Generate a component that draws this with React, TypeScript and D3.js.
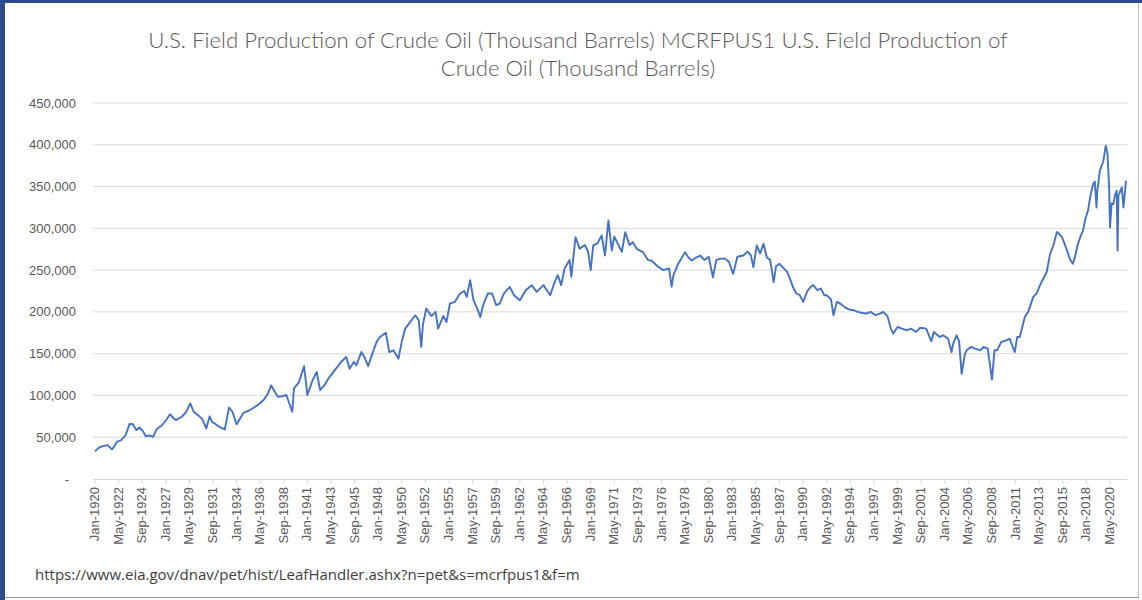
import * as d3 from "d3";

const TITLE_LINES = [
  "U.S. Field Production of Crude Oil (Thousand Barrels) MCRFPUS1 U.S. Field Production of",
  "Crude Oil (Thousand Barrels)",
];
const SOURCE_URL =
  "https://www.eia.gov/dnav/pet/hist/LeafHandler.ashx?n=pet&s=mcrfpus1&f=m";

const Y_TICKS = [0, 50000, 100000, 150000, 200000, 250000, 300000, 350000, 400000, 450000];

// Category labels Excel shows (every 28th month)
const X_TICK_LABELS = [
  "Jan-1920", "May-1922", "Sep-1924", "Jan-1927", "May-1929", "Sep-1931",
  "Jan-1934", "May-1936", "Sep-1938", "Jan-1941", "May-1943", "Sep-1945",
  "Jan-1948", "May-1950", "Sep-1952", "Jan-1955", "May-1957", "Sep-1959",
  "Jan-1962", "May-1964", "Sep-1966", "Jan-1969", "May-1971", "Sep-1973",
  "Jan-1976", "May-1978", "Sep-1980", "Jan-1983", "May-1985", "Sep-1987",
  "Jan-1990", "May-1992", "Sep-1994", "Jan-1997", "May-1999", "Sep-2001",
  "Jan-2004", "May-2006", "Sep-2008", "Jan-2011", "May-2013", "Sep-2015",
  "Jan-2018", "May-2020",
];

// Monthly production, thousand barrels
const EARLY_YEARS: [string, number][] = [
  ["1920-01", 33000], ["1920-05", 37000], ["1920-09", 39000], ["1921-01", 40000],
  ["1921-04", 40500], ["1921-07", 37500], ["1921-09", 35500], ["1921-12", 39000],
  ["1922-03", 44500], ["1922-08", 46500], ["1923-01", 52000], ["1923-04", 60000],
  ["1923-06", 66000], ["1923-10", 65500], ["1924-02", 58500], ["1924-06", 61500],
  ["1924-10", 57000], ["1925-01", 51500], ["1925-06", 52000], ["1925-10", 50500],
  ["1926-02", 59500], ["1926-08", 64000], ["1927-01", 70000], ["1927-06", 77500],
  ["1927-10", 73000], ["1928-01", 70500], ["1928-08", 74500], ["1929-01", 80000],
  ["1929-06", 90500], ["1929-10", 80500], ["1930-03", 76500], ["1930-08", 72000],
  ["1931-01", 60500], ["1931-05", 75000], ["1931-08", 68000], ["1931-11", 66500],
  ["1932-05", 62000], ["1932-11", 59500], ["1933-04", 85500], ["1933-08", 80500],
  ["1934-01", 65500], ["1934-09", 79000], ["1935-04", 82000], ["1935-11", 86500],
  ["1936-04", 90000], ["1936-09", 94500], ["1937-02", 102000], ["1937-06", 112000],
  ["1937-10", 105000], ["1938-02", 98500], ["1938-07", 99000], ["1938-12", 100500],
  ["1939-07", 80500], ["1939-09", 108500], ["1940-03", 116000], ["1940-09", 135000],
  ["1941-01", 100500], ["1941-07", 118000], ["1941-12", 128000], ["1942-04", 106500],
  ["1942-09", 112000], ["1943-02", 120500], ["1943-07", 127000], ["1943-12", 133500],
  ["1944-05", 140000], ["1944-11", 146000], ["1945-03", 132000], ["1945-08", 140000],
  ["1945-11", 136000],
];

const MIDDLE_YEARS: [string, number][] = [
  ["1946-05", 152000], ["1946-09", 145000], ["1947-01", 135000], ["1947-06", 150000],
  ["1947-11", 164000], ["1948-03", 170000], ["1948-10", 175000], ["1949-02", 152000],
  ["1949-07", 154000], ["1950-01", 144000], ["1950-05", 165000], ["1950-09", 180000],
  ["1951-03", 188000], ["1951-09", 196000], ["1952-01", 190000], ["1952-04", 158000],
  ["1952-06", 185000], ["1952-10", 204000], ["1953-04", 195000], ["1953-09", 200000],
  ["1953-12", 180000], ["1954-06", 195000], ["1954-10", 188000], ["1955-02", 210000],
  ["1955-08", 212000], ["1956-02", 222000], ["1956-07", 225000], ["1956-10", 218000],
  ["1957-02", 238000], ["1957-06", 214000], ["1957-10", 205000], ["1958-02", 194000],
  ["1958-06", 210000], ["1958-11", 222000], ["1959-04", 222000], ["1959-09", 208000],
  ["1960-01", 210000], ["1960-06", 222000], ["1961-01", 230000], ["1961-06", 220000],
  ["1962-01", 214000], ["1962-08", 226000], ["1963-03", 232000], ["1963-09", 224000],
  ["1964-05", 232000], ["1964-09", 226000], ["1965-01", 220000], ["1965-06", 235000],
  ["1965-10", 244000], ["1966-02", 232000], ["1966-06", 252000], ["1966-12", 262000],
  ["1967-02", 242000], ["1967-07", 289500], ["1967-12", 275500], ["1968-06", 280000],
  ["1968-10", 272000], ["1969-01", 250000], ["1969-04", 279500], ["1969-09", 282000],
  ["1970-02", 291500], ["1970-06", 267500], ["1970-10", 309500], ["1971-02", 273500],
  ["1971-05", 290000], ["1971-09", 282000], ["1972-02", 272000], ["1972-06", 295500],
  ["1972-11", 280000], ["1973-03", 283500], ["1973-08", 275000], ["1974-03", 271500],
  ["1974-09", 262000], ["1975-01", 261500], ["1975-08", 255000], ["1976-03", 250000],
  ["1976-10", 252000], ["1977-01", 230000], ["1977-03", 243500], ["1977-09", 258000],
  ["1978-05", 271500], ["1978-09", 265000], ["1979-01", 261500], ["1979-06", 265000],
  ["1979-11", 267500], ["1980-04", 262000], ["1980-09", 266000], ["1981-02", 241500],
  ["1981-06", 262000], ["1981-10", 263500], ["1982-04", 264000], ["1982-09", 260000],
  ["1983-02", 245500], ["1983-07", 266000], ["1984-02", 267500], ["1984-07", 272000],
  ["1984-11", 268000], ["1985-02", 253500], ["1985-06", 279500], ["1985-10", 270000],
];

const LATE_YEARS: [string, number][] = [
  ["1986-02", 281500], ["1986-06", 265000], ["1986-10", 262000], ["1987-02", 235500],
  ["1987-05", 255000], ["1987-09", 257500], ["1988-02", 252000], ["1988-06", 248000],
  ["1988-10", 238000], ["1989-01", 229500], ["1989-05", 222000], ["1989-09", 220000],
  ["1990-01", 212000], ["1990-06", 225000], ["1990-10", 230000], ["1991-01", 232000],
  ["1991-06", 226000], ["1991-10", 228000], ["1992-02", 220000], ["1992-05", 220000],
  ["1992-10", 215000], ["1993-01", 196000], ["1993-05", 212000], ["1993-09", 210000],
  ["1994-02", 206000], ["1994-07", 203000], ["1995-01", 202000], ["1995-06", 200000],
  ["1995-10", 199000], ["1996-04", 198000], ["1996-09", 200000], ["1997-03", 196000],
  ["1997-08", 198000], ["1997-12", 200000], ["1998-05", 195000], ["1998-09", 180000],
  ["1998-12", 174000], ["1999-05", 182000], ["1999-10", 180000], ["2000-04", 178000],
  ["2000-09", 180000], ["2001-03", 176000], ["2001-08", 181000], ["2002-03", 180000],
  ["2002-09", 165000], ["2002-12", 176000], ["2003-07", 170000], ["2003-11", 172000],
  ["2004-05", 168000], ["2004-09", 152000], ["2004-11", 162000], ["2005-03", 172000],
  ["2005-06", 165000], ["2005-09", 126000], ["2006-01", 150000], ["2006-03", 154000],
  ["2006-08", 158000], ["2007-01", 156000], ["2007-07", 154000], ["2007-11", 158000],
  ["2008-04", 156000], ["2008-09", 119000], ["2008-12", 154000], ["2009-03", 154000],
  ["2009-08", 164000], ["2010-02", 166000], ["2010-06", 168000], ["2010-12", 152000],
  ["2011-03", 170000], ["2011-06", 170000], ["2011-12", 194000], ["2012-04", 200000],
  ["2012-10", 218000], ["2013-02", 222000], ["2013-06", 232000], ["2013-10", 240000],
  ["2014-02", 248000], ["2014-06", 269500], ["2014-10", 280000], ["2015-02", 295500],
  ["2015-05", 293000], ["2015-08", 289500], ["2015-11", 282000], ["2016-02", 273500],
  ["2016-06", 262000], ["2016-09", 257500], ["2016-12", 268000], ["2017-03", 281500],
  ["2017-06", 290000], ["2017-09", 297500], ["2017-12", 312000], ["2018-03", 321500],
  ["2018-06", 340000], ["2018-09", 353000], ["2018-11", 356000], ["2019-01", 325000],
  ["2019-02", 345000], ["2019-05", 369000], ["2019-09", 380000], ["2019-12", 399000],
  ["2020-02", 390000], ["2020-04", 349000], ["2020-05", 301000], ["2020-07", 330000],
  ["2020-09", 329000], ["2020-11", 340000], ["2021-01", 345000], ["2021-02", 273500],
  ["2021-03", 339000], ["2021-07", 349000], ["2021-09", 325000], ["2021-12", 357000],
];

const W = 1142;
const H = 600;
const PLOT = { left: 93, right: 1127, top: 103, bottom: 479 };

const START = new Date(1920, 0, 1);
const parseData = d3.timeParse("%Y-%m");
const parseTick = d3.timeParse("%b-%Y");
const monthIndex = (d: Date) => d3.timeMonth.count(START, d);

const LINE_COLOR = "#4472C4";
const GRID = "#d9d9d9";
const TEXT = "#595959";

export default function App() {
  const series = [...EARLY_YEARS, ...MIDDLE_YEARS, ...LATE_YEARS].map(
    ([m, v]) => ({ m: monthIndex(parseData(m)!), v })
  );
  const lastMonth = d3.max(series, (d) => d.m)!;

  const x = d3.scaleLinear().domain([0, lastMonth]).range([95, 1126]);
  const y = d3.scaleLinear().domain([0, 450000]).range([PLOT.bottom, PLOT.top]);

  const line = d3
    .line<{ m: number; v: number }>()
    .x((d) => x(d.m))
    .y((d) => y(d.v));

  const fmt = d3.format(",");

  return (
    <>
      <style>{`body{margin:0}`}</style>
      <svg width={W} height={H} style={{ display: "block", fontFamily: "'Liberation Sans', Arial, sans-serif" }}>
        <rect x={0} y={0} width={W} height={H} fill="#fff" />
        {/* frame */}
        <rect x={0} y={0} width={W} height={3} fill="#2b4c8c" />
        <rect x={0} y={0} width={5} height={H} fill="#2b4c8c" />
        <line x1={1138.5} x2={1138.5} y1={3} y2={598} stroke="#bfbfbf" />
        <line x1={5} x2={1139} y1={597.5} y2={597.5} stroke="#9a9a9a" />

        {/* title */}
        {TITLE_LINES.map((t, i) => (
          <text
            key={t}
            x={578}
            y={48 + i * 28}
            textAnchor="middle"
            fontSize={22.2}
            fontWeight={300}
            fill={TEXT}
            fontFamily="Lato, 'Open Sans', sans-serif"
          >
            {t}
          </text>
        ))}

        {/* grid + y labels */}
        {Y_TICKS.map((t) => (
          <g key={t}>
            {t > 0 && (
              <line x1={PLOT.left} x2={PLOT.right} y1={y(t)} y2={y(t)} stroke={GRID} strokeWidth={1} />
            )}
            <text
              x={t === 0 ? 69 : 76}
              y={y(t)}
              dy="0.35em"
              textAnchor="end"
              fontSize={13}
              fill={TEXT}
            >
              {t === 0 ? "-" : fmt(t)}
            </text>
          </g>
        ))}

        {/* x axis */}
        <line x1={PLOT.left} x2={PLOT.right} y1={PLOT.bottom + 0.5} y2={PLOT.bottom + 0.5} stroke={GRID} />
        {X_TICK_LABELS.map((lab) => {
          const px = x(monthIndex(parseTick(lab)!));
          return (
            <g key={lab}>
              <line x1={px} x2={px} y1={PLOT.bottom} y2={PLOT.bottom + 5} stroke={GRID} />
              <text
                transform={`translate(${px + 4},${PLOT.bottom + 8}) rotate(-90)`}
                textAnchor="end"
                fontSize={13}
                fill={TEXT}
              >
                {lab}
              </text>
            </g>
          );
        })}

        {/* series */}
        <path d={line(series) ?? ""} fill="none" stroke={LINE_COLOR} strokeWidth={1.9} strokeLinejoin="round" />

        {/* source */}
        <text x={35} y={580} fontSize={15} fill="#404040" fontFamily="'Open Sans', sans-serif">
          {SOURCE_URL}
        </text>
      </svg>
    </>
  );
}
